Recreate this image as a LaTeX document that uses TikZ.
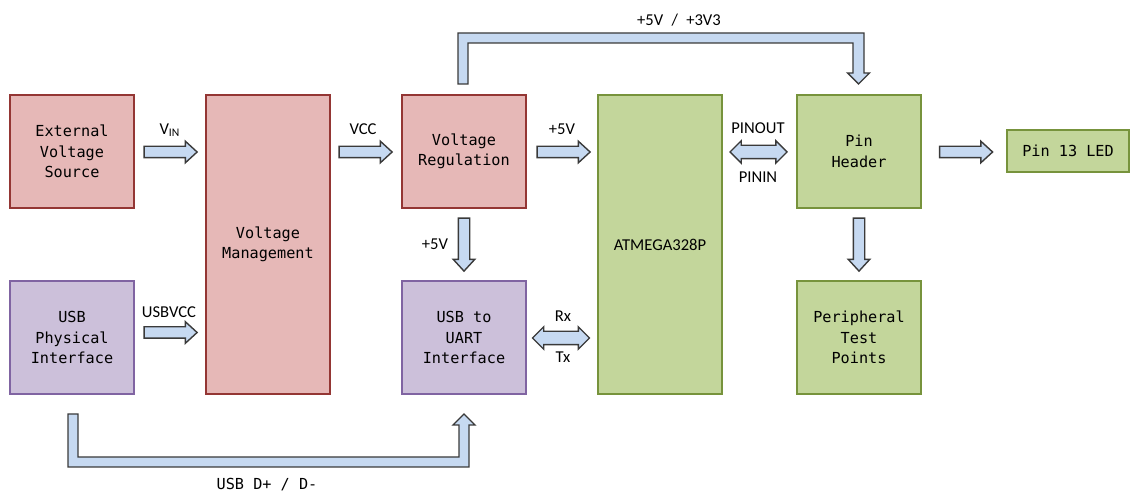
\documentclass[tikz,border=0pt]{standalone}
\usepackage{fontspec}
\usetikzlibrary{shapes.arrows}
\newfontfamily\monofnt{DejaVu Sans Mono}
\newfontfamily\labelfnt{Carlito}
\definecolor{redfill}{HTML}{E6B8B7}
\definecolor{redline}{HTML}{943634}
\definecolor{purplefill}{HTML}{CCC0DA}
\definecolor{purpleline}{HTML}{8064A2}
\definecolor{greenfill}{HTML}{C3D69B}
\definecolor{greenline}{HTML}{77933C}
\definecolor{arrfill}{HTML}{C6D9F1}
\definecolor{arrline}{HTML}{3A3A3A}
\begin{document}
\begin{tikzpicture}[x=0.5pt,y=-0.5pt,
	block/.style={draw,line width=0.7pt,minimum width=62pt,minimum height=56.5pt,align=center,font={\monofnt\fontsize{7.6}{10.2}\selectfont}},
	redblock/.style={block,fill=redfill,draw=redline},
	purpleblock/.style={block,fill=purplefill,draw=purpleline},
	greenblock/.style={block,fill=greenfill,draw=greenline},
	sarrow/.style={single arrow,draw=arrline,fill=arrfill,line width=0.7pt,minimum height=26.5pt,minimum width=10pt,inner sep=2.5pt,single arrow head extend=2.5pt,single arrow tip angle=85},
	darrow/.style={double arrow,draw=arrline,fill=arrfill,line width=0.7pt,minimum height=28.5pt,minimum width=10.5pt,inner sep=3pt,double arrow head extend=2.25pt},
	bent/.style={draw=arrline,fill=arrfill,line width=0.7pt},
	lbl/.style={font={\labelfnt\fontsize{8.3}{10}\selectfont},inner sep=0pt,text depth=0pt},
	monolbl/.style={font={\monofnt\fontsize{7.6}{10.2}\selectfont},inner sep=0pt,text depth=0pt}]
	\useasboundingbox (0,0) rectangle (1130,491);
	\node[redblock] (ext) at (72,151.5) {External\\Voltage\\Source};
	\node[redblock,minimum height=149.5pt] (mgmt) at (268,244.5) {Voltage\\Management};
	\node[redblock] (reg) at (464,151.5) {Voltage\\Regulation};
	\node[purpleblock] (usb) at (72,337.5) {USB\\Physical\\Interface};
	\node[purpleblock] (uart) at (464,337.5) {USB to\\UART\\Interface};
	\node[greenblock,minimum height=149.5pt,font={\labelfnt\fontsize{8.3}{10}\selectfont}] (mcu) at (660,244.5) {ATMEGA328P};
	\node[greenblock] (hdr) at (859,151.5) {Pin\\Header};
	\node[greenblock] (test) at (859,337.5) {Peripheral\\Test\\Points};
	\node[greenblock,minimum width=61pt,minimum height=21pt] (led) at (1068,151) {Pin 13 LED};

	\node[sarrow] (vin) at (167.5,152) {};
	\node[sarrow] (vcc) at (362.5,152) {};
	\node[sarrow] (fivev) at (560.5,152) {};
	\node[sarrow,rotate=-90] (regdown) at (464,241.5) {};
	\node[sarrow] (usbvcc) at (167.5,332.5) {};
	\node[darrow] (rxtx) at (561,338) {};
	\node[darrow] (pins) at (758.5,152) {};
	\node[sarrow] (ledarr) at (963,152) {};
	\node[sarrow,rotate=-90] (hdrdown) at (859,241.5) {};

	\draw[bent] (458,84) -- (458,33) -- (864,33) -- (864,73) -- (869.5,73) -- (858.5,84) -- (847.5,73) -- (853,73) -- (853,43) -- (468,43) -- (468,84) -- cycle;
	\draw[bent] (68,414) -- (78,414) -- (78,457) -- (459,457) -- (459,425) -- (453,425) -- (464,414) -- (475,425) -- (469,425) -- (469,467) -- (68,467) -- cycle;

	\node[lbl] (vinlbl) at (170,129) {V\textsubscript{IN}};
	\node[lbl] (vcclbl) at (363,129) {VCC};
	\node[lbl] (fivevlbl) at (562,129) {+5V};
	\node[lbl] (reglbl) at (435,244) {+5V};
	\node[lbl] (usbvcclbl) at (169,312) {USBVCC};
	\node[lbl] (rxlbl) at (563,316) {Rx};
	\node[lbl] (txlbl) at (563,357) {Tx};
	\node[lbl] (pinoutlbl) at (758,128) {PINOUT};
	\node[lbl] (pininlbl) at (758,177) {PININ};
	\node[lbl] (toplbl) at (679,20) {+5V\enspace/\enspace+3V3};
	\node[monolbl] (botlbl) at (267,484) {USB D+ / D-};
\end{tikzpicture}
\end{document}
